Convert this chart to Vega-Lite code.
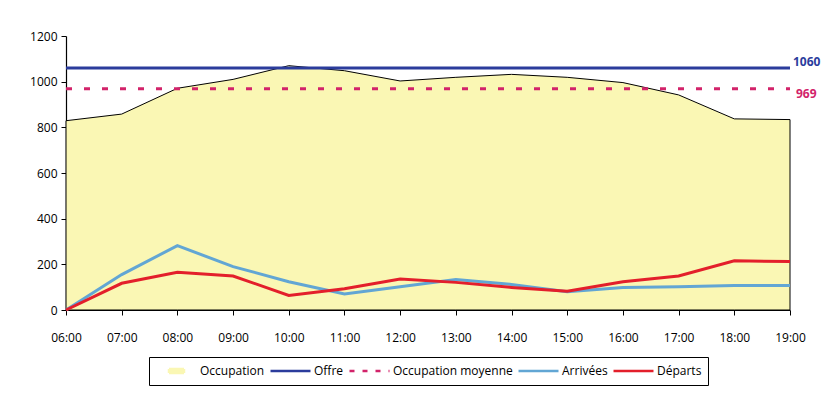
{
  "$schema": "https://vega.github.io/schema/vega-lite/v6.json",
  "width": 724,
  "height": 274,
  "autosize": {"type": "none"},
  "padding": {"left": 66, "top": 36, "right": 33, "bottom": 84},
  "background": "white",
  "config": {
    "font": "Open Sans",
    "view": {"stroke": null},
    "axis": {"grid": false, "domainColor": "black", "tickColor": "black", "labelColor": "black", "labelFontSize": 12, "tickSize": 5, "title": null, "domainWidth": 1.2},
    "legend": {"layout": {"bottom": {"anchor": "middle"}}}
  },
  "data": {"values": [
    {"heure": "06:00", "serie": "Occupation", "valeur": 829},
    {"heure": "07:00", "serie": "Occupation", "valeur": 858},
    {"heure": "08:00", "serie": "Occupation", "valeur": 971},
    {"heure": "09:00", "serie": "Occupation", "valeur": 1010},
    {"heure": "10:00", "serie": "Occupation", "valeur": 1070},
    {"heure": "11:00", "serie": "Occupation", "valeur": 1048},
    {"heure": "12:00", "serie": "Occupation", "valeur": 1003},
    {"heure": "13:00", "serie": "Occupation", "valeur": 1019},
    {"heure": "14:00", "serie": "Occupation", "valeur": 1032},
    {"heure": "15:00", "serie": "Occupation", "valeur": 1019},
    {"heure": "16:00", "serie": "Occupation", "valeur": 996},
    {"heure": "17:00", "serie": "Occupation", "valeur": 942},
    {"heure": "18:00", "serie": "Occupation", "valeur": 837},
    {"heure": "19:00", "serie": "Occupation", "valeur": 834},
    {"heure": "06:00", "serie": "Offre", "valeur": 1060},
    {"heure": "19:00", "serie": "Offre", "valeur": 1060},
    {"heure": "06:00", "serie": "Occupation moyenne", "valeur": 969},
    {"heure": "19:00", "serie": "Occupation moyenne", "valeur": 969},
    {"heure": "06:00", "serie": "Arrivées", "valeur": 0},
    {"heure": "07:00", "serie": "Arrivées", "valeur": 155},
    {"heure": "08:00", "serie": "Arrivées", "valeur": 282},
    {"heure": "09:00", "serie": "Arrivées", "valeur": 190},
    {"heure": "10:00", "serie": "Arrivées", "valeur": 124},
    {"heure": "11:00", "serie": "Arrivées", "valeur": 70},
    {"heure": "12:00", "serie": "Arrivées", "valeur": 102},
    {"heure": "13:00", "serie": "Arrivées", "valeur": 134},
    {"heure": "14:00", "serie": "Arrivées", "valeur": 112},
    {"heure": "15:00", "serie": "Arrivées", "valeur": 80},
    {"heure": "16:00", "serie": "Arrivées", "valeur": 98},
    {"heure": "17:00", "serie": "Arrivées", "valeur": 102},
    {"heure": "18:00", "serie": "Arrivées", "valeur": 107},
    {"heure": "19:00", "serie": "Arrivées", "valeur": 107},
    {"heure": "06:00", "serie": "Départs", "valeur": 0},
    {"heure": "07:00", "serie": "Départs", "valeur": 117},
    {"heure": "08:00", "serie": "Départs", "valeur": 165},
    {"heure": "09:00", "serie": "Départs", "valeur": 149},
    {"heure": "10:00", "serie": "Départs", "valeur": 64},
    {"heure": "11:00", "serie": "Départs", "valeur": 93},
    {"heure": "12:00", "serie": "Départs", "valeur": 136},
    {"heure": "13:00", "serie": "Départs", "valeur": 121},
    {"heure": "14:00", "serie": "Départs", "valeur": 99},
    {"heure": "15:00", "serie": "Départs", "valeur": 82},
    {"heure": "16:00", "serie": "Départs", "valeur": 124},
    {"heure": "17:00", "serie": "Départs", "valeur": 149},
    {"heure": "18:00", "serie": "Départs", "valeur": 216},
    {"heure": "19:00", "serie": "Départs", "valeur": 212}
  ]},
  "encoding": {
    "x": {"field": "heure", "type": "ordinal", "scale": {"type": "point", "padding": 0}, "axis": {"labelAngle": 0, "labelPadding": 17}},
    "y": {"field": "valeur", "type": "quantitative", "scale": {"domain": [0, 1200], "nice": false}, "axis": {"values": [0, 200, 400, 600, 800, 1000, 1200], "format": "d", "labelPadding": 4}},
    "color": {
      "field": "serie", "type": "nominal",
      "scale": {"domain": ["Occupation", "Offre", "Occupation moyenne", "Arrivées", "Départs"], "range": ["#FAF7B4", "#2B3C9C", "#D2236A", "#62A6D4", "#E31F2B"]},
      "legend": {
        "orient": "bottom", "direction": "horizontal", "columns": 5, "title": null,
        "strokeColor": "black", "fillColor": "white", "padding": 6, "offset": 14,
        "symbolSize": 1600, "symbolStrokeWidth": 2.5, "clipHeight": 16,
        "labelFontSize": 12, "labelColor": "black", "columnPadding": 4, "labelOffset": 2,
        "symbolType": "stroke",
        "encode": {
          "symbols": {"update": {
            "shape": {"signal": "datum.value === 'Occupation' ? 'M-0.375,-0.1H0.375V0.1H-0.375Z' : 'stroke'"},
            "stroke": {"signal": "datum.value === 'Occupation' ? '#111111' : datum.value === 'Offre' ? '#2B3C9C' : datum.value === 'Occupation moyenne' ? '#D2236A' : datum.value === 'Arrivées' ? '#62A6D4' : '#E31F2B'"},
            "fill": {"signal": "datum.value === 'Occupation' ? '#FAF7B4' : 'transparent'"},
            "strokeWidth": {"value": 2.5},
            "strokeDash": {"signal": "datum.value === 'Occupation moyenne' ? [5, 8] : [1, 0]"},
            "opacity": {"value": 1},
            "fillOpacity": {"value": 1},
            "strokeOpacity": {"value": 1}
          }}
        }
      }
    }
  },
  "layer": [
    {
      "transform": [{"filter": "datum.serie === 'Occupation'"}],
      "mark": {"type": "area", "stroke": "black", "strokeWidth": 1, "opacity": 1, "fillOpacity": 1}
    },
    {
      "transform": [{"filter": "datum.serie === 'Offre'"}],
      "mark": {"type": "line", "strokeWidth": 3}
    },
    {
      "transform": [{"filter": "datum.serie === 'Occupation moyenne'"}],
      "mark": {"type": "line", "strokeWidth": 3, "strokeDash": [6, 12]}
    },
    {
      "transform": [{"filter": "datum.serie === 'Arrivées'"}],
      "mark": {"type": "line", "strokeWidth": 3}
    },
    {
      "transform": [{"filter": "datum.serie === 'Départs'"}],
      "mark": {"type": "line", "strokeWidth": 3}
    },
    {
      "transform": [{"filter": "datum.serie === 'Offre' && datum.heure === '19:00'"}],
      "mark": {"type": "text", "align": "left", "dx": 3, "dy": -6, "fontSize": 12, "fontWeight": "bold"},
      "encoding": {"text": {"field": "valeur", "type": "quantitative", "format": "d"}, "color": {"value": "#2B3C9C"}}
    },
    {
      "transform": [{"filter": "datum.serie === 'Occupation moyenne' && datum.heure === '19:00'"}],
      "mark": {"type": "text", "align": "left", "dx": 6, "dy": 5, "fontSize": 12, "fontWeight": "bold"},
      "encoding": {"text": {"field": "valeur", "type": "quantitative", "format": "d"}, "color": {"value": "#D2236A"}}
    }
  ]
}
